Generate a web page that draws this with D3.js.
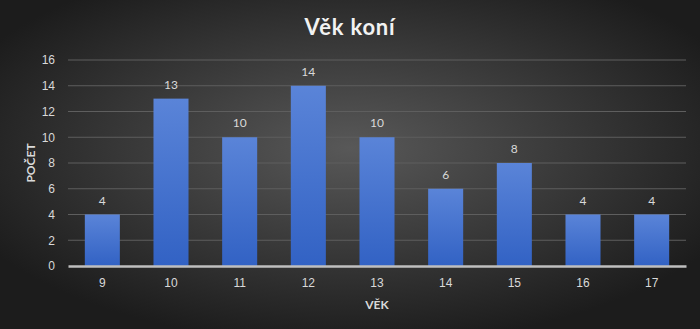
<!DOCTYPE html>
<html>
<head>
<meta charset="utf-8">
<script src="https://cdn.jsdelivr.net/npm/d3@7"></script>
<style>
  body { margin: 0; background: #2a2a2a; }
  svg { display: block; font-family: Lato, "Open Sans", sans-serif; }
</style>
</head>
<body>
<svg id="chart"></svg>
<script>
// data
var ages = ["9", "10", "11", "12", "13", "14", "15", "16", "17"];
var counts = [4, 13, 10, 14, 10, 6, 8, 4, 4];
var yTicks = [0, 2, 4, 6, 8, 10, 12, 14, 16];

var W = 700, H = 329;
var margin = { top: 60, right: 14, bottom: 63, left: 68 };
var width = W - margin.left - margin.right;
var height = H - margin.top - margin.bottom;

var svg = d3.select("#chart").attr("width", W).attr("height", H);

var defs = svg.append("defs");
var bg = defs.append("radialGradient").attr("id", "bg")
  .attr("cx", "50%").attr("cy", "45%").attr("r", "60%");
bg.append("stop").attr("offset", "0%").attr("stop-color", "#585858");
bg.append("stop").attr("offset", "100%").attr("stop-color", "#1c1c1c");

var barGrad = defs.append("linearGradient").attr("id", "barGrad")
  .attr("x1", 0).attr("y1", 0).attr("x2", 0).attr("y2", 1);
barGrad.append("stop").attr("offset", "0%").attr("stop-color", "#5a84d8");
barGrad.append("stop").attr("offset", "100%").attr("stop-color", "#3262c4");

svg.append("rect").attr("width", W).attr("height", H).attr("fill", "url(#bg)");

// title
svg.append("text")
  .attr("x", W / 2).attr("y", 35)
  .attr("text-anchor", "middle")
  .attr("fill", "#f2f2f2")
  .style("font-size", "22px").style("font-weight", "bold")
  .style("letter-spacing", "0.8px")
  .text("Věk koní");

var g = svg.append("g")
  .attr("transform", "translate(" + margin.left + "," + margin.top + ")");

var x = d3.scaleBand().domain(ages).range([0, width]).paddingInner(0.49).paddingOuter(0.245);
var y = d3.scaleLinear().domain([0, 16]).range([height, 0]);

// gridlines
g.selectAll(".grid")
  .data(yTicks.filter(function(d) { return d > 0; }))
  .enter().append("line")
  .attr("x1", 0).attr("x2", width)
  .attr("y1", function(d) { return y(d); })
  .attr("y2", function(d) { return y(d); })
  .attr("stroke", "#5e5e5e").attr("stroke-width", 1);

// y axis
var yAxis = g.append("g")
  .call(d3.axisLeft(y).tickValues(yTicks).tickSize(0).tickPadding(13));
yAxis.select(".domain").remove();
yAxis.selectAll("text").attr("fill", "#d9d9d9").style("font-size", "12px");

// bars
g.selectAll(".bar")
  .data(counts)
  .enter().append("rect")
  .attr("class", "bar")
  .attr("x", function(d, i) { return x(ages[i]); })
  .attr("y", function(d) { return y(d); })
  .attr("width", x.bandwidth())
  .attr("height", function(d) { return height - y(d); })
  .attr("fill", "url(#barGrad)");

// value labels
g.selectAll(".label")
  .data(counts)
  .enter().append("text")
  .attr("x", function(d, i) { return x(ages[i]) + x.bandwidth() / 2; })
  .attr("y", function(d) { return y(d) - 10; })
  .attr("text-anchor", "middle")
  .attr("fill", "#d9d9d9")
  .style("font-size", "12px")
  .text(function(d) { return d; });

// x axis
var xAxis = g.append("g")
  .attr("transform", "translate(0," + height + ")")
  .call(d3.axisBottom(x).tickSize(0).tickPadding(12));
xAxis.select(".domain").attr("stroke", "#bfbfbf").attr("stroke-width", 2.5);
xAxis.selectAll("text").attr("fill", "#d9d9d9").style("font-size", "12px");

// axis titles
svg.append("text")
  .attr("x", margin.left + width / 2).attr("y", 309)
  .attr("text-anchor", "middle")
  .attr("fill", "#d9d9d9")
  .style("font-size", "12px").style("font-weight", "bold")
  .text("VĚK");

svg.append("text")
  .attr("transform", "translate(35," + (margin.top + height / 2) + ") rotate(-90)")
  .attr("text-anchor", "middle")
  .attr("fill", "#d9d9d9")
  .style("font-size", "12px").style("font-weight", "bold")
  .text("POČET");
</script>
</body>
</html>
